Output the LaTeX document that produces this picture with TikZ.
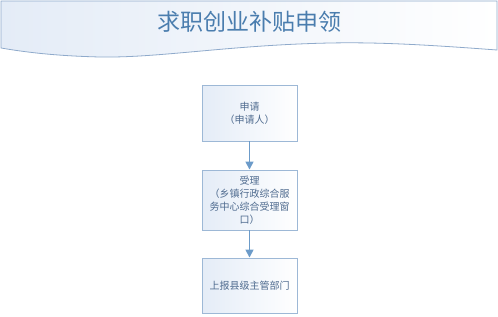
\documentclass[tikz,border=0pt]{standalone}
\usepackage{fontspec}
\setmainfont{Noto Sans CJK SC}
\usetikzlibrary{arrows.meta}
\definecolor{bordercol}{HTML}{9DB8D6}
\definecolor{boxlight}{HTML}{E4ECF7}
\definecolor{txtcol}{HTML}{4F6B8F}
\definecolor{titlecol}{HTML}{4A7DAE}
\definecolor{arrowcol}{HTML}{6C9BC9}
\definecolor{bannerline}{HTML}{8FAACB}
\begin{document}
\begin{tikzpicture}[x=1pt,y=-1pt,
  stepbox/.style={draw=bordercol, line width=0.9pt, left color=boxlight, right color=white,
    minimum width=95pt, inner sep=2pt, align=center, text=txtcol,
    font=\fontsize{10}{13}\selectfont},
  flow/.style={draw=arrowcol, line width=1.6pt, -{Triangle[length=8pt,width=8pt]}}]
\useasboundingbox (0,0) rectangle (498,316);
% banner
\path[draw=bannerline, line width=0.8pt, left color=boxlight, right color=white]
  (1,1) -- (497,1) -- (497,50)
  .. controls (430,45) and (380,42) .. (330,43)
  .. controls (230,45) and (160,58) .. (100,57)
  .. controls (60,56) and (30,53) .. (1,48) -- cycle;
\node[text=titlecol, font=\fontsize{23}{26}\selectfont] (title) at (249,22) {求职创业补贴申领};
% boxes
\node[stepbox, minimum height=56pt] (b1) at (249.5,113) {申请\\（申请人）};
\node[stepbox, minimum height=60pt] (b2) at (249.5,200) {受理\\（乡镇行政综合服\\务中心综合受理窗\\口）};
\node[stepbox, minimum height=55pt] (b3) at (249.5,285.5) {上报县级主管部门};
\draw[flow] (b1) -- (b2);
\draw[flow] (b2) -- (b3);
\end{tikzpicture}
\end{document}
